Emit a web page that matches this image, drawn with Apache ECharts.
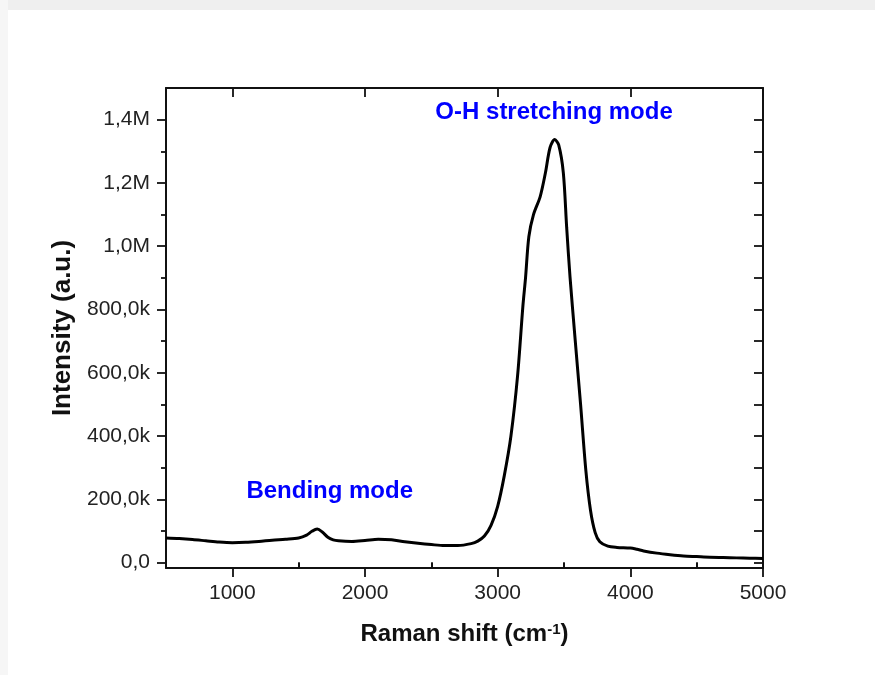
<!DOCTYPE html>
<html>
<head>
<meta charset="utf-8">
<script src="https://cdn.jsdelivr.net/npm/echarts@6/dist/echarts.min.js"></script>
<style>
  html, body { margin: 0; padding: 0; background: #efefef; }
  #chart { width: 875px; height: 675px; }
</style>
</head>
<body>
<div id="chart"></div>
<script>
// Raman shift (cm-1)
const ramanShift = [500, 600, 700, 800, 900, 1000, 1100, 1200, 1300, 1400, 1500, 1560, 1600, 1640, 1680, 1720, 1760, 1800, 1900, 2000, 2100, 2200, 2300, 2400, 2500, 2600, 2700, 2800, 2850, 2900, 2950, 3000, 3050, 3100, 3150, 3190, 3210, 3235, 3270, 3320, 3360, 3395, 3430, 3460, 3495, 3520, 3545, 3585, 3625, 3665, 3700, 3735, 3770, 3830, 3900, 4000, 4050, 4100, 4200, 4300, 4400, 4500, 4600, 4700, 4800, 4900, 5000];
// Intensity (a.u.)
const intensity = [78000, 76000, 73000, 69000, 65000, 63000, 64000, 67000, 71000, 74000, 78000, 87000, 99000, 106000, 96000, 80000, 72000, 69000, 67000, 70000, 74000, 72000, 66000, 61000, 57000, 54000, 54000, 60000, 68000, 84000, 118000, 178000, 275000, 400000, 590000, 810000, 900000, 1030000, 1100000, 1156000, 1232000, 1312000, 1337000, 1320000, 1232000, 1060000, 905000, 700000, 500000, 290000, 165000, 95000, 66000, 52000, 48000, 46000, 42000, 37000, 30000, 25000, 21000, 19000, 17000, 16000, 15000, 14000, 13000];

const xMajorTicks = [1000, 2000, 3000, 4000, 5000];
const xMinorTicks = [500, 1500, 2500, 3500, 4500];
const yMajorTicks = [0, 200000, 400000, 600000, 800000, 1000000, 1200000, 1400000];
const yMinorTicks = [100000, 300000, 500000, 700000, 900000, 1100000, 1300000];
const yAllTicks = [0, 100000, 200000, 300000, 400000, 500000, 600000, 700000, 800000, 900000, 1000000, 1100000, 1200000, 1300000, 1400000];

const annotationLabels = ['Bending mode', 'O-H stretching mode'];
const annotationX = [1734, 3425];
const annotationY = [224000, 1424000];

const X_MIN = 500, X_MAX = 5000, Y_MIN = -17000, Y_MAX = 1500000;

function fmtY(v) {
  if (v === 0) return '0,0';
  if (Math.abs(v) >= 1000000) return (v / 1000000).toFixed(1).replace('.', ',') + 'M';
  return (v / 1000).toFixed(1).replace('.', ',') + 'k';
}

const FONT = '"Liberation Sans", Arial, sans-serif';
const AX = '#111';

function xAx(position, ticks, len, inside, extra) {
  return Object.assign({
    type: 'value', gridIndex: 0, position: position, min: X_MIN, max: X_MAX,
    axisLine: { show: false }, splitLine: { show: false },
    axisLabel: { show: false },
    axisTick: { show: true, inside: inside, length: len, customValues: ticks, lineStyle: { color: AX, width: 1.8 } }
  }, extra || {});
}
function yAx(position, ticks, len, inside, extra) {
  return Object.assign({
    type: 'value', gridIndex: 0, position: position, min: Y_MIN, max: Y_MAX,
    axisLine: { show: false }, splitLine: { show: false },
    axisLabel: { show: false },
    axisTick: { show: true, inside: inside, length: len, customValues: ticks, lineStyle: { color: AX, width: 1.8 } }
  }, extra || {});
}

const chart = echarts.init(document.getElementById('chart'), null, { renderer: 'canvas' });
chart.setOption({
  backgroundColor: '#efefef',
  animation: false,
  textStyle: { fontFamily: FONT },
  graphic: [
    { type: 'rect', left: 0, top: 0, shape: { x: 0, y: 0, width: 8, height: 675 }, style: { fill: '#f6f6f6' }, silent: true, z: -10 },
    { type: 'rect', left: 8, top: 10, shape: { x: 0, y: 0, width: 867, height: 665 }, style: { fill: '#ffffff' }, silent: true, z: -10 }
  ],
  grid: { left: 166, right: 112, top: 88, bottom: 107, containLabel: false },
  xAxis: [
    xAx('bottom', xMajorTicks, 9, false, {
      axisLine: { show: true, onZero: false, lineStyle: { color: AX, width: 2 } },
      axisLabel: { show: true, customValues: xMajorTicks, margin: 15, fontSize: 21, color: '#222', fontFamily: FONT, formatter: v => String(v) },
      name: 'Raman shift (cm{sup|-1})',
      nameLocation: 'middle', nameGap: 54,
      nameTextStyle: {
        fontSize: 24, fontWeight: 'bold', color: '#111', fontFamily: FONT,
        rich: { sup: { fontSize: 15, fontWeight: 'bold', color: '#111', verticalAlign: 'top', padding: [0, 0, 10, 0], fontFamily: FONT } }
      }
    }),
    xAx('bottom', xMinorTicks, 5, false),
    xAx('top', xMajorTicks, 9, true, { axisLine: { show: true, onZero: false, lineStyle: { color: AX, width: 2 } } }),
    xAx('top', xMinorTicks, 5, true)
  ],
  yAxis: [
    yAx('left', yMajorTicks, 9, false, {
      axisLine: { show: true, onZero: false, lineStyle: { color: AX, width: 2 } },
      axisLabel: { show: true, customValues: yMajorTicks, margin: 16, fontSize: 21, color: '#222', fontFamily: FONT, formatter: fmtY },
      name: 'Intensity (a.u.)',
      nameLocation: 'middle', nameGap: 86, nameRotate: 90,
      nameTextStyle: { fontSize: 26, fontWeight: 'bold', color: '#111', fontFamily: FONT }
    }),
    yAx('left', yMinorTicks, 5, false),
    yAx('right', yAllTicks, 9, true, { axisLine: { show: true, onZero: false, lineStyle: { color: AX, width: 2 } } })
  ],
  series: [
    {
      type: 'line', xAxisIndex: 0, yAxisIndex: 0,
      data: ramanShift.map((x, i) => [x, intensity[i]]),
      showSymbol: false, symbol: 'none',
      smooth: 0.3,
      lineStyle: { color: '#000', width: 3 },
      clip: true, z: 3
    },
    {
      type: 'scatter', xAxisIndex: 0, yAxisIndex: 0,
      symbolSize: 0, silent: true,
      itemStyle: { opacity: 1 },
      data: annotationLabels.map((t, i) => ({ value: [annotationX[i], annotationY[i]], name: t })),
      label: {
        show: true, position: 'inside', formatter: p => p.name, opacity: 1,
        fontSize: 24, fontWeight: 'bold', color: '#0000ff', fontFamily: FONT
      },
      z: 4
    }
  ]
});
</script>
</body>
</html>
